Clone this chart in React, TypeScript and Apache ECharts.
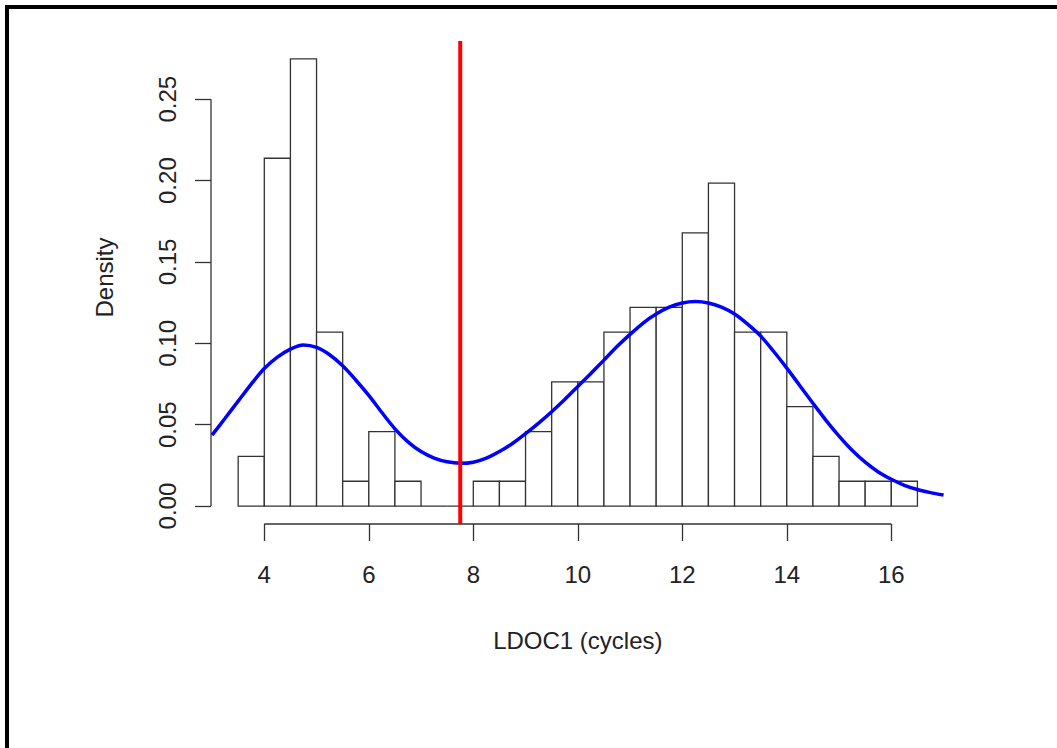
import React, { useEffect, useRef } from "react";
import * as echarts from "echarts";

// Histogram bins (LDOC1 cycles), width 0.5, counts
const binStarts = [3.5, 4.0, 4.5, 5.0, 5.5, 6.0, 6.5, 7.0, 7.5, 8.0, 8.5, 9.0, 9.5, 10.0, 10.5, 11.0, 11.5, 12.0, 12.5, 13.0, 13.5, 14.0, 14.5, 15.0, 15.5, 16.0];
const binWidth = 0.5;
const binCounts = [2, 14, 18, 7, 1, 3, 1, 0, 0, 1, 1, 3, 5, 5, 7, 8, 8, 11, 13, 7, 7, 4, 2, 1, 1, 1];

// Fitted density curve (blue), every 0.25
const curveX = [
  3.0, 3.25, 3.5, 3.75, 4.0, 4.25, 4.5, 4.75, 5.0, 5.25, 5.5, 5.75, 6.0, 6.25, 6.5, 6.75,
  7.0, 7.25, 7.5, 7.75, 8.0, 8.25, 8.5, 8.75, 9.0, 9.25, 9.5, 9.75, 10.0, 10.25, 10.5, 10.75,
  11.0, 11.25, 11.5, 11.75, 12.0, 12.25, 12.5, 12.75, 13.0, 13.25, 13.5, 13.75, 14.0, 14.25,
  14.5, 14.75, 15.0, 15.25, 15.5, 15.75, 16.0, 16.25, 16.5, 16.75, 17.0,
];
const curveY = [
  0.0436, 0.054, 0.0645, 0.075, 0.0845, 0.0915, 0.0965, 0.099, 0.0975, 0.093, 0.0862, 0.0775, 0.068, 0.0575, 0.0475, 0.0395,
  0.0335, 0.0295, 0.0272, 0.0263, 0.027, 0.0295, 0.0335, 0.0385, 0.0445, 0.051, 0.058, 0.0655, 0.0735, 0.0815, 0.0897, 0.098,
  0.1055, 0.1125, 0.118, 0.1222, 0.1248, 0.1257, 0.1248, 0.1222, 0.118, 0.1118, 0.1045, 0.095, 0.0848, 0.074,
  0.0632, 0.0527, 0.043, 0.0343, 0.027, 0.021, 0.0165, 0.0128, 0.0102, 0.0083, 0.0068,
];

// Cut-off (red vertical line)
const cutoff = 7.75;

// Axes
const xTicks = [4, 6, 8, 10, 12, 14, 16];
const yTicks = [0, 0.05, 0.1, 0.15, 0.2, 0.25];
const yTickLabels = ["0.00", "0.05", "0.10", "0.15", "0.20", "0.25"];
const xMin = 2.98;
const xMax = 17.02;
const yMin = -0.011;
const yMax = 0.2858;

const FONT = "'Liberation Sans', Arial, Helvetica, sans-serif";

export default function App() {
  const ref = useRef<HTMLDivElement>(null);
  useEffect(() => {
    if (!ref.current) return;
    const chart = echarts.init(ref.current, undefined, { renderer: "svg" });
    const total = binCounts.reduce((a, b) => a + b, 0);
    const histData = binStarts.map((s, i) => [s, s + binWidth, binCounts[i] / (total * binWidth)]);
    const curveData = curveX.map((x, i) => [x, curveY[i]]);

    chart.setOption({
      animation: false,
      backgroundColor: "#ffffff",
      grid: { left: 211, right: 112.4, top: 41, bottom: 224, containLabel: false },
      xAxis: {
        type: "value",
        min: xMin,
        max: xMax,
        axisLine: { show: false, onZero: false },
        splitLine: { show: false },
        axisTick: { show: true, customValues: xTicks, length: 17, lineStyle: { color: "#333", width: 1.3 } },
        axisLabel: {
          customValues: xTicks,
          margin: 38,
          fontSize: 24,
          color: "#222",
          fontFamily: FONT,
          formatter: (v: number) => String(v),
        },
        name: "LDOC1 (cycles)",
        nameLocation: "middle",
        nameGap: 104,
        nameTextStyle: { fontSize: 24, color: "#222", fontFamily: FONT },
      },
      yAxis: {
        type: "value",
        min: yMin,
        max: yMax,
        axisLine: { show: false, onZero: false },
        splitLine: { show: false },
        axisTick: { show: true, customValues: yTicks, length: 16, lineStyle: { color: "#333", width: 1.3 } },
        axisLabel: {
          customValues: yTicks,
          rotate: 90,
          margin: 32,
          fontSize: 24,
          color: "#222",
          fontFamily: FONT,
          formatter: (v: number) => {
            const i = yTicks.findIndex((t) => Math.abs(t - v) < 1e-9);
            return i >= 0 ? yTickLabels[i] : "";
          },
        },
        name: "Density",
        nameLocation: "middle",
        nameGap: 95,
        nameTextStyle: { fontSize: 24, color: "#222", fontFamily: FONT, padding: [0, 0, 0, 10] },
      },
      graphic: [
        {
          type: "rect",
          shape: { x: 7, y: 7, width: 1200, height: 900 },
          style: { fill: "none", stroke: "#000", lineWidth: 4 },
          silent: true,
        },
      ],
      series: [
        {
          type: "custom",
          data: histData,
          encode: { x: [0, 1], y: 2 },
          renderItem: (params: any, api: any) => {
            const x0 = api.value(0);
            const x1 = api.value(1);
            const h = api.value(2);
            const p0 = api.coord([x0, h]);
            const p1 = api.coord([x1, 0]);
            return {
              type: "rect",
              shape: { x: p0[0], y: p0[1], width: p1[0] - p0[0], height: p1[1] - p0[1] },
              style: { fill: "#fff", stroke: "#333", lineWidth: 1.3 },
            };
          },
          z: 1,
        },
        {
          type: "line",
          data: curveData,
          smooth: 0.3,
          showSymbol: false,
          symbol: "none",
          lineStyle: { color: "#0000ff", width: 3.5 },
          z: 3,
        },
        {
          type: "line",
          data: [[cutoff, yMin], [cutoff, yMax]],
          symbol: "none",
          lineStyle: { color: "#ff0000", width: 4 },
          z: 4,
        },
        {
          type: "line",
          data: [[xTicks[0], yMin], [xTicks[xTicks.length - 1], yMin]],
          symbol: "none",
          clip: false,
          lineStyle: { color: "#333", width: 1.3 },
          z: 2,
        },
        {
          type: "line",
          data: [[xMin, yTicks[0]], [xMin, yTicks[yTicks.length - 1]]],
          symbol: "none",
          clip: false,
          lineStyle: { color: "#333", width: 1.3 },
          z: 2,
        },
      ],
    });
    return () => chart.dispose();
  }, []);
  return (
    <div
      ref={ref}
      style={{ position: "fixed", left: 0, top: 0, width: 1057, height: 748, overflow: "hidden" }}
    />
  );
}
